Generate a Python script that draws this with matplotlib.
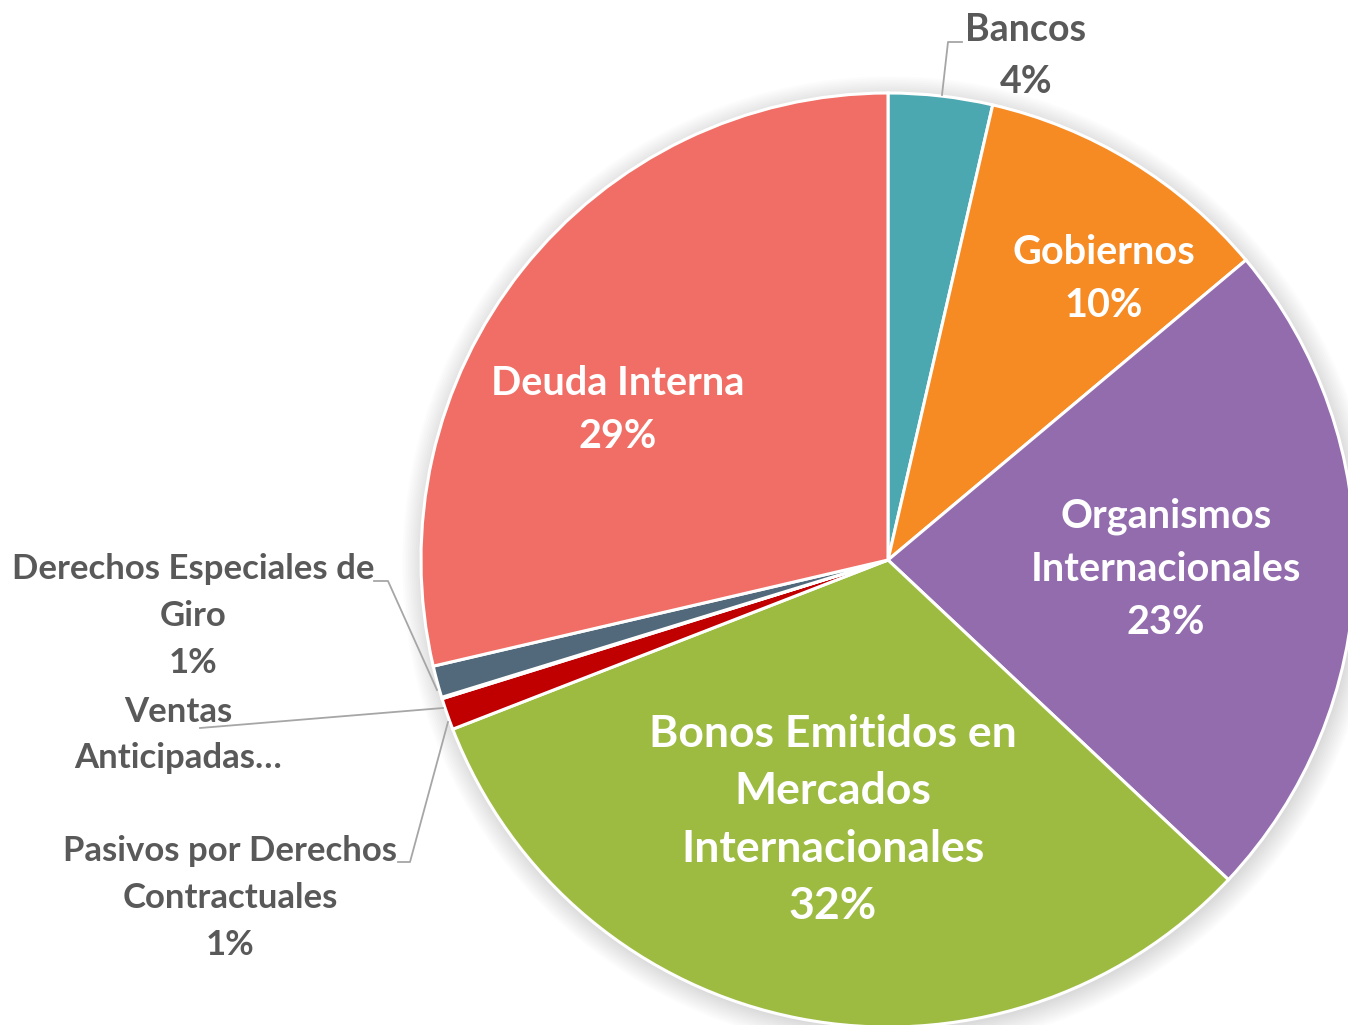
import matplotlib
matplotlib.use('Agg')
import matplotlib.pyplot as plt
from matplotlib.patches import Circle

# slices, clockwise from 12 o'clock
labels = ['Bancos', 'Gobiernos', 'Organismos\nInternacionales',
          'Bonos Emitidos en\nMercados\nInternacionales',
          'Pasivos por Derechos\nContractuales', 'Ventas\nAnticipadas…',
          'Derechos Especiales de\nGiro', 'Deuda Interna']
values = [3.6, 10.3, 23.1, 32.1, 1.1, 0.05, 1.1, 28.65]
colors = ['#4BA8B0', '#F68A23', '#936CAE', '#9DBB41',
          '#C00000', '#7F7F7F', '#51697A', '#F06E65']
show_pct = [True, True, True, True, True, False, True, True]

plt.rcParams['font.family'] = ['Lato', 'DejaVu Sans']

W, H = 1348, 1025
cx, cy, R = 888, 560, 467  # pie centre and radius in pixels

def px(x, y):
    # pixel position -> data coords (pie radius = 1)
    return (x - cx) / R, (cy - y) / R

fig = plt.figure(figsize=(W / 100, H / 100), dpi=100)
ax = fig.add_axes([0, 0, 1, 1])

# soft shadow
for k in range(12):
    ax.add_patch(Circle((0.004, -0.008), 1 + 0.004 * k, color='black',
                        alpha=0.012, lw=0, zorder=0))

ax.pie(values, colors=colors, startangle=90, counterclock=False, radius=1,
       wedgeprops=dict(edgecolor='white', linewidth=2.2))

ax.set_xlim(-cx / R, (W - cx) / R)
ax.set_ylim((cy - H) / R, cy / R)
ax.set_aspect('equal', adjustable='datalim')
ax.axis('off')

def txt(i):
    s = labels[i]
    if show_pct[i]:
        s += '\n%d%%' % round(values[i])
    return s

gray = '#595959'
# inside labels (index, pixel centre, size)
inside = [(1, 1104, 279, 28.5), (2, 1166, 569, 28.5),
          (3, 833, 820, 32), (7, 618, 410, 28.5)]
for i, x, y, fs in inside:
    ax.text(*px(x, y), txt(i), color='white', fontsize=fs, fontweight='bold',
            ha='center', va='center', linespacing=1.53)

# outside labels with leader lines (index, centre, size, linespacing, leader)
outside = [(0, 1026, 56, 27, 1.64, [(962, 42), (948, 42), (942, 95)]),
           (6, 193, 616, 25, 1.56, [(374, 581), (388, 581), (437, 690)]),
           (5, 178, 735, 25, 1.56, [(200, 728), (443, 708)]),
           (4, 230, 898, 25, 1.56, [(398, 862), (410, 862), (448, 722)])]
for i, x, y, fs, ls, pts in outside:
    ax.text(*px(x, y), txt(i), color=gray, fontsize=fs, fontweight='bold',
            ha='center', va='center', linespacing=ls)
    xs, ys = zip(*[px(a, b) for a, b in pts])
    ax.plot(xs, ys, color='#A6A6A6', lw=1.3, zorder=5)

fig.savefig('out.png', dpi=100, facecolor='white')
